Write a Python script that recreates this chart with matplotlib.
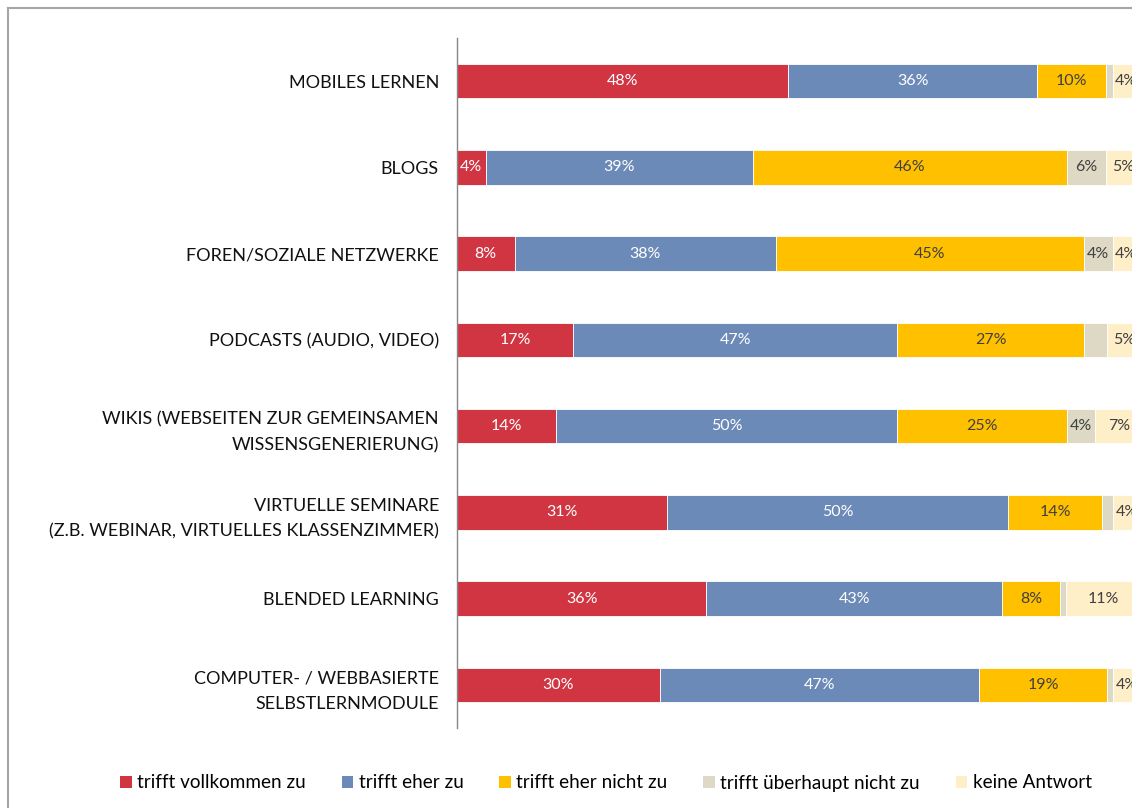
import matplotlib
matplotlib.use("Agg")
import matplotlib.pyplot as plt
from matplotlib.patches import Patch
from matplotlib.lines import Line2D

plt.rcParams["font.family"] = ["Lato", "DejaVu Sans"]

categories = [
    "MOBILES LERNEN",
    "BLOGS",
    "FOREN/SOZIALE NETZWERKE",
    "PODCASTS (AUDIO, VIDEO)",
    "WIKIS (WEBSEITEN ZUR GEMEINSAMEN\nWISSENSGENERIERUNG)",
    "VIRTUELLE SEMINARE\n(Z.B. WEBINAR, VIRTUELLES KLASSENZIMMER)",
    "BLENDED LEARNING",
    "COMPUTER- / WEBBASIERTE\nSELBSTLERNMODULE",
]
series = ["trifft vollkommen zu", "trifft eher zu", "trifft eher nicht zu",
          "trifft überhaupt nicht zu", "keine Antwort"]
vollkommen = [48.3, 4.2, 8.4, 16.9, 14.4, 30.6, 36.4, 29.6]
eher = [36.4, 39.0, 38.1, 47.4, 49.9, 49.9, 43.2, 46.6]
eher_nicht = [10.1, 45.8, 45.0, 27.2, 24.7, 13.7, 8.4, 18.7]
ueberhaupt_nicht = [0.9, 5.8, 4.2, 3.4, 4.2, 1.6, 0.9, 0.9]
keine_antwort = [4, 5, 4, 5, 7, 4, 11, 4]

colors = ["#D13542", "#6C8AB8", "#FFC000", "#DDD9C4", "#FFEFC8"]
text_colors = ["white", "white", "#404040", "#404040", "#404040"]

W, H = 1132, 808
fig = plt.figure(figsize=(W / 100, H / 100), dpi=100)

# chart-area border (cropped on right and bottom)
fig.add_artist(Line2D([8 / W, 8 / W], [0, 1 - 8 / H], color="#A6A6A6", lw=1.5))
fig.add_artist(Line2D([8 / W, 1], [1 - 8 / H, 1 - 8 / H], color="#A6A6A6", lw=1.5))

# axes extend past the right edge, as in the reference
ax = fig.add_axes([457 / W, 80 / H, 685 / W, 690 / H])

data = [vollkommen, eher, eher_nicht, ueberhaupt_nicht, keine_antwort]
y = list(range(len(categories)))
left = [0] * len(categories)
for vals, col, tc, name in zip(data, colors, text_colors, series):
    ax.barh(y, vals, left=left, height=0.4, color=col, edgecolor="white",
            linewidth=0.6, label=name)
    for yi, l, v in zip(y, left, vals):
        if v >= 3.5:
            ax.text(l + v / 2, yi, f"{v:.0f}%", ha="center", va="center",
                    color=tc, fontsize=11.5)
    left = [a + b for a, b in zip(left, vals)]

ax.set_xlim(0, 100)
ax.set_ylim(len(categories) - 0.5, -0.5)
ax.set_yticks(y)
ax.set_yticklabels(categories, fontsize=13, color="#111111", linespacing=1.75)
ax.tick_params(axis="y", length=0, pad=13)
ax.set_xticks([])
for s in ["top", "right", "bottom"]:
    ax.spines[s].set_visible(False)
ax.spines["left"].set_color("#868686")
ax.spines["left"].set_linewidth(1)

handles = [Patch(facecolor=c, edgecolor="none") for c in colors]
fig.legend(handles, series, loc="center", bbox_to_anchor=(606 / W, 25 / H),
           ncol=5, frameon=False, fontsize=13.6, handlelength=0.6,
           handleheight=0.6, handletextpad=0.3, columnspacing=1.9)

fig.savefig("out.png", dpi=100)
